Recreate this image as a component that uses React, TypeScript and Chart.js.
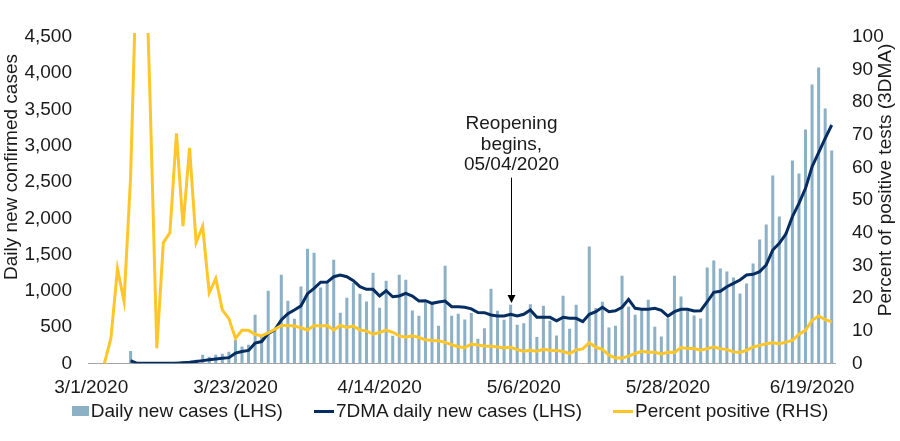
import React, { useEffect, useRef } from "react";
import { Chart, registerables } from "chart.js";

Chart.register(...registerables);

// ---------- DATA ----------
// Daily categories 3/1/2020 .. 6/22/2020
const monthDays: [number, number, number][] = [
  [3, 1, 31],
  [4, 1, 30],
  [5, 1, 31],
  [6, 1, 22],
];
const dates: string[] = monthDays.flatMap(([m, a, b]) =>
  Array.from({ length: b - a + 1 }, (_, i) => `${m}/${a + i}/2020`)
);

const tickDates = ["3/1/2020", "3/23/2020", "4/14/2020", "5/6/2020", "5/28/2020", "6/19/2020"];

const dailyCases: number[] = [
  0, 0, 0, 0, 0, 0, 170, 0, 0, 0,
  0, 0, 0, 20, 30, 30, 50, 117, 90, 117,
  131, 159, 324, 232, 255, 669, 380, 1000, 462, 1220,
  862, 614, 1059, 1579, 1524, 1045, 1128, 1427, 696, 903,
  1106, 958, 852, 1248, 765, 1138, 379, 1220, 1151, 728,
  655, 838, 820, 517, 1345, 655, 683, 604, 694, 338,
  485, 1027, 724, 600, 807, 531, 554, 816, 361, 793,
  586, 382, 931, 476, 807, 0, 1611, 763, 850, 492,
  519, 1207, 780, 669, 738, 876, 505, 368, 623, 1207,
  921, 724, 659, 618, 1321, 1418, 1308, 1266, 1183, 963,
  1101, 1376, 1707, 1914, 2590, 2024, 1804, 2797, 2617, 3224,
  3845, 4079, 3514, 2935,
];

const sevenDayAvg: (number | null)[] = [
  null, null, null, null, null, null, 35, 0, 0, 0,
  0, 0, 0, 0, 7, 14, 25, 37, 50, 59,
  69, 78, 140, 163, 178, 278, 300, 410, 460, 597,
  685, 735, 792, 960, 1034, 1118, 1120, 1194, 1218, 1194,
  1139, 1056, 1020, 1020, 928, 1001, 918, 928, 965, 928,
  859, 863, 827, 845, 859, 781, 781, 772, 750, 700,
  698, 666, 652, 652, 676, 652, 676, 735, 634, 634,
  634, 587, 634, 620, 620, 574, 676, 712, 772, 712,
  725, 772, 882, 758, 745, 745, 758, 730, 652, 712,
  745, 745, 721, 725, 849, 979, 993, 1056, 1103, 1149,
  1218, 1227, 1264, 1356, 1562, 1654, 1783, 2022, 2206, 2413,
  2711, 2904, 3103, 3286,
];

const percentPositive: (number | null)[] = [
  null, null, 0, 7.7, 29, 19, 57, 129, 146, 79,
  4.6, 37, 40, 70.5, 42, 66, 37, 42, 21.6, 26,
  16.4, 13.7, 7.6, 10.1, 10.1, 8.9, 8.4, 9.3, 10.4, 11.6,
  11.6, 11.4, 10.9, 10.2, 11.6, 11.4, 11.6, 10.2, 11.6, 11.0,
  11.4, 10.2, 9.9, 8.9, 9.5, 10.2, 9.5, 8.4, 8.0, 8.4,
  7.9, 7.2, 7.0, 6.9, 6.4, 5.7, 5.1, 4.8, 5.9, 5.6,
  5.3, 5.2, 5.0, 4.8, 4.9, 4.2, 3.7, 4.0, 3.7, 4.3,
  4.0, 3.9, 3.6, 3.0, 4.1, 4.4, 6.3, 4.9, 4.3, 2.5,
  1.6, 1.6, 2.2, 3.0, 3.7, 3.4, 3.4, 2.9, 3.4, 3.3,
  4.8, 4.5, 4.5, 4.0, 4.5, 5.0, 4.5, 4.2, 3.5, 3.3,
  4.0, 5.0, 5.5, 6.0, 6.3, 6.0, 6.5, 7.0, 8.9, 10.1,
  13.2, 14.5, 13.4, 12.7,
];

const seriesNames = ["Daily new cases (LHS)", "7DMA daily new cases (LHS)", "Percent positive (RHS)"];
const leftTitle = "Daily new confirmed cases";
const rightTitle = "Percent of positive tests (3DMA)";
const annotationLines = ["Reopening", "begins,", "05/04/2020"];
const annotationDate = "5/4/2020";

// ---------- STYLE ----------
const FAMILY = "'Liberation Sans', Arial, Helvetica, sans-serif";
const FONT_SIZE = 19;
const TEXT = "#1a1a1a";
const BAR = "#8CB0C6";
const NAVY = "#062D62";
const GOLD = "#FFC629";

const titlesPlugin = {
  id: "axisTitles",
  afterDraw(chart: any) {
    const { ctx, chartArea } = chart;
    ctx.save();
    ctx.font = `${FONT_SIZE}px ${FAMILY}`;
    ctx.fillStyle = TEXT;
    ctx.textAlign = "center";
    ctx.textBaseline = "middle";
    ctx.save();
    ctx.translate(12, chartArea.top + 130);
    ctx.rotate(-Math.PI / 2);
    ctx.fillText(leftTitle, 0, 0);
    ctx.restore();
    ctx.save();
    ctx.translate(886, chartArea.top + 143);
    ctx.rotate(-Math.PI / 2);
    ctx.fillText(rightTitle, 0, 0);
    ctx.restore();
    ctx.restore();
  },
};

const annotationPlugin = {
  id: "reopenAnnotation",
  afterDatasetsDraw(chart: any) {
    const { ctx } = chart;
    const xs = chart.scales.x;
    const ys = chart.scales.yL;
    const x = Math.round(xs.getPixelForValue(dates.indexOf(annotationDate))) + 0.5;
    const yTip = ys.getPixelForValue(830);
    const yTail = ys.getPixelForValue(2560);
    ctx.save();
    ctx.strokeStyle = "#000";
    ctx.fillStyle = "#000";
    ctx.lineWidth = 1;
    ctx.beginPath();
    ctx.moveTo(x, yTail);
    ctx.lineTo(x, yTip - 6);
    ctx.stroke();
    ctx.beginPath();
    ctx.moveTo(x, yTip);
    ctx.lineTo(x - 4, yTip - 8);
    ctx.lineTo(x + 4, yTip - 8);
    ctx.closePath();
    ctx.fill();
    ctx.font = `${FONT_SIZE}px ${FAMILY}`;
    ctx.fillStyle = TEXT;
    ctx.textAlign = "center";
    ctx.textBaseline = "middle";
    const offsets = [-54, -33, -13];
    annotationLines.forEach((t, i) => ctx.fillText(t, x, yTail + offsets[i]));
    ctx.restore();
  },
};

export default function App() {
  const ref = useRef<HTMLCanvasElement | null>(null);

  useEffect(() => {
    document.body.style.margin = "0";
    const canvas = ref.current;
    if (!canvas) return;
    const font = { family: FAMILY, size: FONT_SIZE };
    const chart = new Chart(canvas, {
      type: "bar",
      data: {
        labels: dates,
        datasets: [
          {
            type: "line",
            label: seriesNames[2],
            data: percentPositive,
            yAxisID: "yR",
            borderColor: GOLD,
            backgroundColor: GOLD,
            borderWidth: 3,
            pointRadius: 0,
            tension: 0,
            order: 0,
            clip: { left: 2, top: 4, right: 2, bottom: 2 },
          } as any,
          {
            type: "line",
            label: seriesNames[1],
            data: sevenDayAvg,
            yAxisID: "yL",
            borderColor: NAVY,
            backgroundColor: NAVY,
            borderWidth: 3,
            pointRadius: 0,
            tension: 0,
            order: 1,
          } as any,
          {
            type: "bar",
            label: seriesNames[0],
            data: dailyCases,
            yAxisID: "yL",
            backgroundColor: BAR,
            barPercentage: 0.46,
            categoryPercentage: 1,
            order: 2,
          } as any,
        ],
      },
      options: {
        responsive: false,
        animation: false,
        layout: { padding: { top: 37, left: 0, right: 0, bottom: 0 } },
        plugins: { legend: { display: false }, tooltip: { enabled: false } },
        scales: {
          x: {
            grid: { display: false, drawTicks: false },
            border: { display: true, color: "#A6A6A6", width: 1 },
            ticks: {
              autoSkip: false,
              maxRotation: 0,
              padding: 13,
              color: TEXT,
              font,
              callback: (_v: any, i: number) => (tickDates.includes(dates[i]) ? dates[i] : null),
            },
            afterFit: (s: any) => {
              s.height = 77.7;
            },
          },
          yL: {
            position: "left",
            min: 0,
            max: 4500,
            grid: { display: false, drawTicks: false },
            border: { display: false },
            ticks: { stepSize: 500, padding: 16, color: TEXT, font },
            afterFit: (s: any) => {
              s.width = 88;
            },
          },
          yR: {
            position: "right",
            min: 0,
            max: 100,
            grid: { display: false, drawTicks: false },
            border: { display: false },
            ticks: { stepSize: 10, padding: 17, color: TEXT, font },
            afterFit: (s: any) => {
              s.width = 65;
            },
          },
        },
      } as any,
      plugins: [titlesPlugin, annotationPlugin],
    });
    return () => chart.destroy();
  }, []);

  const markerStyles: React.CSSProperties[] = [
    { width: 17, height: 10, background: BAR },
    { width: 20, height: 3, background: NAVY },
    { width: 20, height: 3, background: GOLD },
  ];

  return (
    <div style={{ position: "relative", width: 900, height: 441, background: "#fff" }}>
      <canvas ref={ref} width={900} height={441} style={{ display: "block" }} />
      <div
        style={{
          position: "absolute",
          left: 0,
          top: 400,
          width: 900,
          display: "flex",
          justifyContent: "center",
          gap: 31,
          fontFamily: FAMILY,
          fontSize: FONT_SIZE,
          color: TEXT,
          lineHeight: "22px",
        }}
      >
        {seriesNames.map((name, i) => (
          <div key={name} style={{ display: "flex", alignItems: "center", gap: 2 }}>
            <span style={{ display: "inline-block", ...markerStyles[i] }} />
            <span>{name}</span>
          </div>
        ))}
      </div>
    </div>
  );
}
